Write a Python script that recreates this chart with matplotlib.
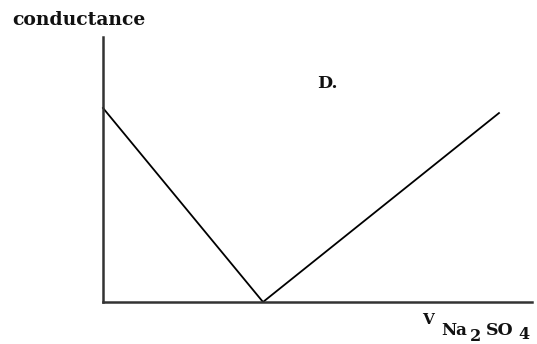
import matplotlib.pyplot as plt

# conductance vs volume of Na2SO4 added (arbitrary units)
volume = [0.0, 3.73, 9.23]
conductance = [7.32, 0.0, 7.13]

plt.rcParams['font.family'] = ['DejaVu Serif']

W, H = 537, 344
fig = plt.figure(figsize=(W / 100, H / 100), dpi=100)
ax = fig.add_axes([103 / W, (H - 302) / H, (532 - 103) / W, (302 - 37) / H])

ax.plot(volume, conductance, color='black', linewidth=1.3, clip_on=False)
ax.set_xlim(0, 10)
ax.set_ylim(0, 10)

for side in ['top', 'right']:
    ax.spines[side].set_visible(False)
for side in ['left', 'bottom']:
    ax.spines[side].set_linewidth(1.8)
    ax.spines[side].set_color('#333333')
ax.set_xticks([])
ax.set_yticks([])

bold = dict(fontweight='bold', color='#111111')
fig.text(12 / W, 1 - 25 / H, 'conductance', fontsize=13.5, **bold)
fig.text(317 / W, 1 - 88 / H, 'D.', fontsize=12.5, **bold)

# x label: V with Na2SO4 subscript
fig.text(422 / W, 1 - 324 / H, 'V', fontsize=11, **bold)
fig.text(441 / W, 1 - 335 / H, 'Na', fontsize=12, **bold)
fig.text(470 / W, 1 - 341 / H, '2', fontsize=11.5, **bold)
fig.text(486 / W, 1 - 335 / H, 'SO', fontsize=12.5, **bold)
fig.text(518 / W, 1 - 339 / H, '4', fontsize=11.5, **bold)

fig.savefig('out.png', dpi=100)
